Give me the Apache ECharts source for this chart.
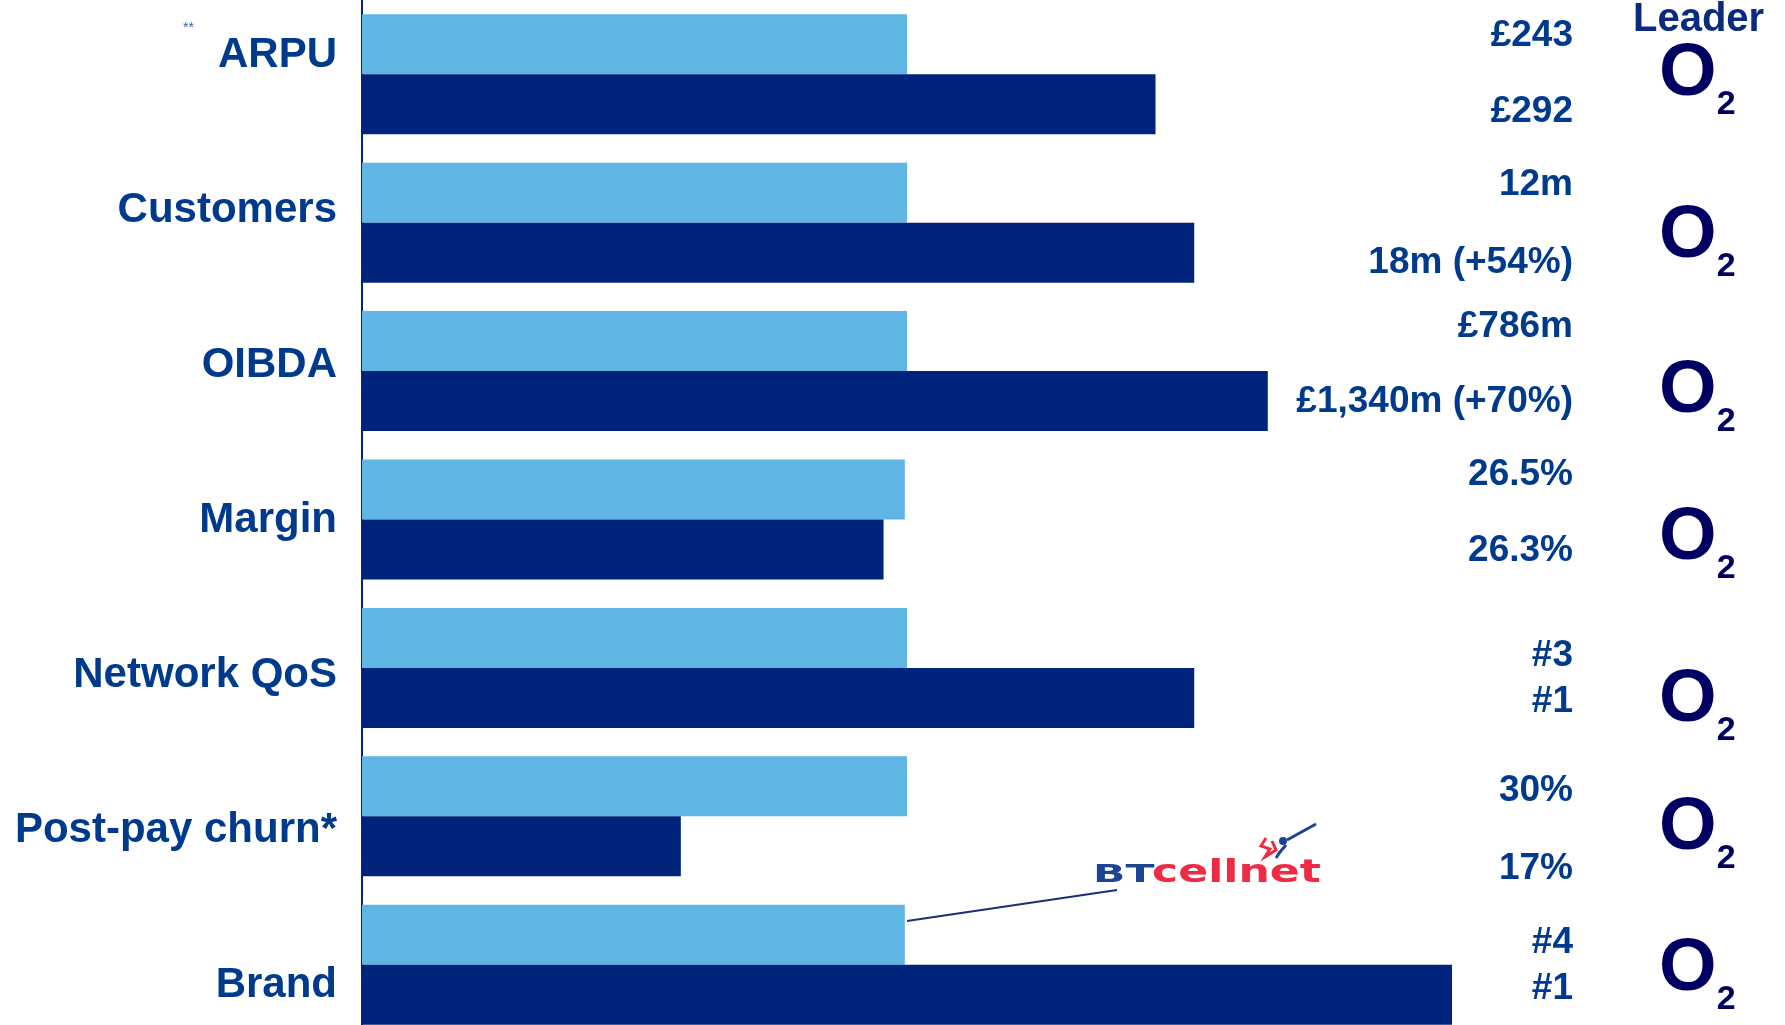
<!DOCTYPE html>
<html>
<head>
<meta charset="utf-8">
<title>O2 leader</title>
<script src="https://cdn.jsdelivr.net/npm/echarts@6/dist/echarts.min.js"></script>
<style>
    html, body { margin: 0; padding: 0; background: #fff; }
    #myChartArea { width: 1785px; height: 1025px; }
</style>
</head>
<body>
<div id="myChartArea"></div>
<script>
// 指标（自上而下）
var categories = ['ARPU', 'Customers', 'OIBDA', 'Margin', 'Network QoS', 'Post-pay churn*', 'Brand'];
// 条形长度：示意指数，BT Cellnet 时期 ≈ 100
var cellnetValues = [100, 100, 100, 99.6, 100, 100, 99.6];
var o2Values = [145.6, 152.7, 166.2, 95.7, 152.7, 58.5, 200];
// 右侧数值文字
var cellnetLabels = ['£243', '12m', '£786m', '26.5%', '#3', '30%', '#4'];
var o2Labels = ['£292', '18m (+54%)', '£1,340m (+70%)', '26.3%', '#1', '17%', '#1'];
// Leader 列
var leaders = ['O2', 'O2', 'O2', 'O2', 'O2', 'O2', 'O2'];

// 版式微调（像素，相对每组中心）
var topShift = [-38, -38, -44, -45, -12, -26, -22];
var bottomShift = [38, 40, 31, 31, 34, 52, 24];
var leaderShift = [0, 14, 21, 19, 33, 12, 5];

var textBlue = '#003a8c';
var lightBlue = '#5fb5e3';
var darkBlue = '#00247b';
var valueColumnX = 222.2;   // 数值文字右对齐位置（x 轴单位）
var leaderColumnX = 238;    // O2 标志左端（x 轴单位）

var myChart = echarts.init(document.getElementById('myChartArea'));

function labelPoints(x, shifts) {
    return categories.map(function (c, i) {
        return { value: [x, c], label: { offset: [0, shifts[i]] } };
    });
}

var valueLabelStyle = {
    show: true, position: 'left', distance: 0,
    fontSize: 37, fontWeight: 'bold', fontFamily: 'Liberation Sans', color: textBlue
};

var option = {
    backgroundColor: '#fff',
    animation: false,
    title: [
        {
            text: 'Leader', left: 1628, top: -5,
            textStyle: { fontSize: 40, fontWeight: 'bold', color: '#0a2a80', fontFamily: 'Liberation Sans' }
        },
        {
            text: '**', left: 178, top: 16,
            textStyle: { fontSize: 14, fontWeight: 'normal', color: '#3a5fa8', fontFamily: 'Liberation Sans' }
        }
    ],
    grid: [
        { left: 362, top: 0, width: 1417, height: 1039, outerBoundsMode: 'none' },
        // 左侧文字另用一组等距刻度
        { left: 362, top: -22.5, width: 1, height: 1085, outerBoundsMode: 'none' }
    ],
    xAxis: [
        { type: 'value', min: 0, max: 260, show: false, gridIndex: 0 },
        { type: 'value', show: false, gridIndex: 1 }
    ],
    yAxis: [
        {
            type: 'category', data: categories, inverse: true, gridIndex: 0,
            axisLine: { show: true, lineStyle: { color: darkBlue, width: 2 } },
            axisTick: { show: false },
            axisLabel: { show: false },
            splitLine: { show: false }
        },
        {
            type: 'category', data: categories, inverse: true, gridIndex: 1,
            axisLine: { show: false },
            axisTick: { show: false },
            splitLine: { show: false },
            axisLabel: {
                margin: 25,
                fontSize: 42,
                fontWeight: 'bold',
                fontFamily: 'Liberation Sans',
                color: textBlue
            }
        }
    ],
    series: [
        {
            name: 'BT Cellnet', type: 'bar', data: cellnetValues,
            barWidth: 60, barGap: '0%',
            itemStyle: { color: lightBlue }
        },
        {
            name: 'O2', type: 'bar', data: o2Values,
            barWidth: 60, barGap: '0%',
            itemStyle: { color: darkBlue }
        },
        {
            name: 'cellnet text', type: 'scatter', symbolSize: 0, clip: false,
            itemStyle: { opacity: 1 },
            data: labelPoints(valueColumnX, topShift),
            label: Object.assign({}, valueLabelStyle, {
                formatter: function (p) { return cellnetLabels[p.dataIndex]; }
            })
        },
        {
            name: 'o2 text', type: 'scatter', symbolSize: 0, clip: false,
            itemStyle: { opacity: 1 },
            data: labelPoints(valueColumnX, bottomShift),
            label: Object.assign({}, valueLabelStyle, {
                formatter: function (p) { return o2Labels[p.dataIndex]; }
            })
        },
        {
            name: 'leader', type: 'scatter', symbolSize: 0, clip: false,
            itemStyle: { opacity: 1 },
            data: labelPoints(leaderColumnX, leaderShift),
            label: {
                show: true, position: 'right', distance: 0,
                formatter: function (p) {
                    var s = leaders[p.dataIndex];
                    return '{o|' + s.charAt(0) + '}{s|' + s.slice(1) + '}';
                },
                rich: {
                    o: { fontSize: 74, lineHeight: 74, fontWeight: 'bold', fontFamily: 'Liberation Sans', color: '#000062', verticalAlign: 'top' },
                    s: { fontSize: 34, lineHeight: 34, fontWeight: 'bold', fontFamily: 'Liberation Sans', color: '#000062', verticalAlign: 'top', padding: [50, 0, 0, 0] }
                }
            }
        }
    ],
    graphic: [
        {
            type: 'line', z: 10,
            shape: { x1: 907, y1: 921, x2: 1117, y2: 890 },
            style: { stroke: '#1a2f7a', lineWidth: 2 }
        },
        {
            type: 'text', x: 1093, y: 888, scaleX: 1.7, z: 10,
            style: { text: 'BT', font: 'bold 25px DejaVu Sans', fill: '#1d4394', textVerticalAlign: 'bottom' }
        },
        {
            type: 'text', x: 1152, y: 890, scaleX: 1.38, z: 10,
            style: { text: 'cellnet', font: 'bold 32px DejaVu Sans', fill: '#ee2a44', textVerticalAlign: 'bottom' }
        },
        // 小号手图案（近似）
        {
            type: 'polyline', z: 10,
            shape: { points: [[1287, 840], [1316, 824]] },
            style: { stroke: '#1d4394', lineWidth: 3, fill: null }
        },
        {
            type: 'circle', z: 10,
            shape: { cx: 1283, cy: 841, r: 4 },
            style: { fill: '#1d4394' }
        },
        {
            type: 'polyline', z: 10,
            shape: { points: [[1286, 845], [1280, 852], [1276, 858]] },
            style: { stroke: '#1d4394', lineWidth: 3, fill: null }
        },
        {
            type: 'polyline', z: 10,
            shape: { points: [[1266, 838], [1261, 846], [1270, 849], [1265, 857], [1276, 850], [1272, 841]] },
            style: { stroke: '#ee2a44', lineWidth: 3, fill: null }
        }
    ]
};

myChart.setOption(option);
</script>
</body>
</html>
